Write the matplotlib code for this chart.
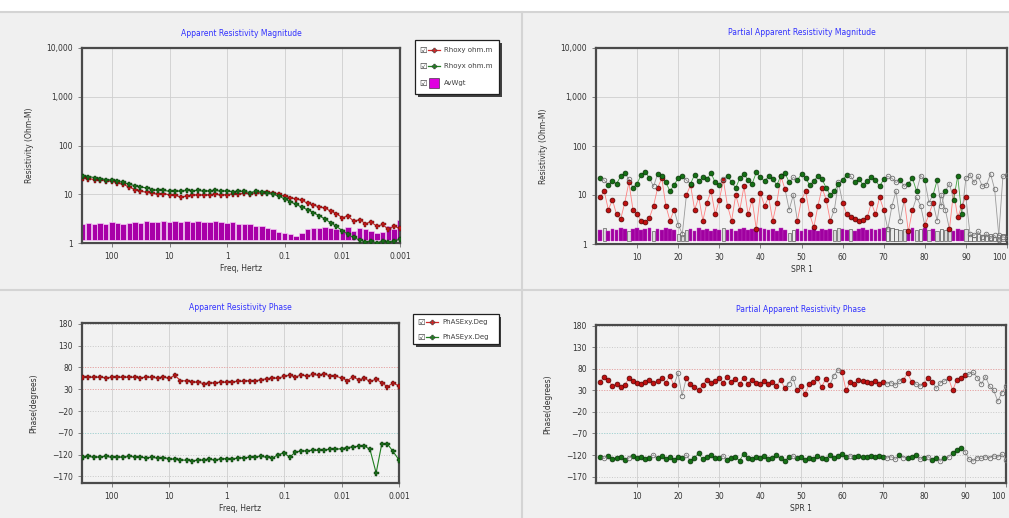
import matplotlib.pyplot as plt
from matplotlib.patches import Rectangle
from matplotlib.lines import Line2D

W, H = 1009, 518

# ---- sounding data (frequency domain) ----
freq = [320, 256, 200, 160, 128, 100, 80, 64, 50, 40, 32, 25, 20, 16, 12.8, 10,
        8, 6.4, 5, 4, 3.2, 2.5, 2, 1.6, 1.28, 1, 0.8, 0.64, 0.5, 0.4, 0.32, 0.25,
        0.2, 0.16, 0.128, 0.1, 0.08, 0.064, 0.05, 0.04, 0.032, 0.025, 0.02, 0.016,
        0.0128, 0.01, 0.008, 0.0064, 0.005, 0.004, 0.0032, 0.0025, 0.002, 0.0016,
        0.00128, 0.001]
rho_xy = [22, 21, 20, 20, 19, 18.5, 17, 16, 14, 12.5, 11.5, 11, 10.5, 10, 10.2, 9.8,
          9.5, 8.8, 9.2, 9.5, 9.8, 9.5, 9.8, 10, 9.6, 9.8, 10.2, 10, 10.5, 10.2, 10.8, 10.5,
          11, 10.5, 10, 9, 8.5, 8, 7.5, 6.5, 6, 5.5, 5.2, 4.5,
          4, 3.3, 3.6, 2.8, 3, 2.5, 2.7, 2.2, 2.4, 1.9,
          2.2, 2.0]
rho_yx = [24, 23, 22, 21, 20, 19.5, 18.5, 17.5, 16, 15, 14, 13.5, 12.5, 12, 12, 11.5,
          11.8, 11.5, 12, 11.8, 12, 11.5, 11.8, 12, 11.5, 11.8, 11.2, 11.5, 11.4, 10.8, 11.5, 11,
          10.5, 10, 9.2, 8, 7, 6.2, 5.4, 4.8, 4.2, 3.6, 3.1, 2.6,
          2.2, 1.8, 1.5, 1.3, 1.15, 1.05, 1.1, 1.0, 1.12, 1.05,
          1.1, 1.2]
av_wgt = [2.5, 2.6, 2.4, 2.6, 2.5, 2.7, 2.6, 2.5, 2.6, 2.7, 2.6, 2.8, 2.7, 2.7, 2.8, 2.7,
          2.8, 2.7, 2.8, 2.7, 2.8, 2.7, 2.7, 2.8, 2.7, 2.6, 2.7, 2.5, 2.4, 2.4, 2.2, 2.2,
          2.0, 1.9, 1.7, 1.6, 1.5, 1.4, 1.6, 1.9, 2.0, 2.0, 2.1, 2.0,
          1.9, 1.9, 2.1, 1.8, 2.0, 1.9, 1.8, 1.6, 1.7, 2.2,
          1.9, 2.9]
phs_xy = [58, 58, 57, 58, 56, 57, 58, 57, 58, 57, 56, 58, 57, 56, 58, 55,
          62, 50, 49, 47, 46, 43, 44, 45, 46, 46, 47, 48, 48, 50, 49, 52,
          54, 56, 55, 60, 62, 58, 63, 60, 64, 62, 65, 61,
          60, 56, 50, 58, 52, 55, 48, 53, 45, 36,
          44, 38]
phs_yx = [-125, -124, -126, -125, -124, -126, -125, -126, -124, -125, -126, -127, -126, -128, -127, -129,
          -131, -132, -133, -134, -133, -132, -131, -132, -130, -129, -130, -128, -127, -126, -125, -124,
          -126, -128, -120, -116, -126, -114, -112, -111, -110, -110, -109, -108,
          -108, -106, -104, -102, -101, -100, -108, -162, -96, -95,
          -112, -132]

# ---- partial (per SPR) data ----
spr = list(range(1, 101))
p_rho_xy = [9, 12, 5, 8, 4, 3.2, 7, 18, 5, 4,
            3, 2.8, 3.4, 6, 14, 22, 6, 3, 5, 2.5,
            1.6, 10, 16, 5, 9, 3, 7, 12, 4, 8,
            20, 6, 3, 10, 5, 15, 4, 8, 2, 11,
            6, 9, 3, 7, 24, 13, 5, 10, 3, 8,
            12, 4, 2.2, 6, 14, 8, 3, 5, 18, 7,
            4, 3.6, 3.2, 3, 3.1, 3.5, 7, 4, 9, 5,
            2, 6, 12, 3, 8, 1.8, 5, 9, 6, 2.4,
            4, 7, 3, 10, 5, 2, 12, 3.5, 6, 9,
            1.6, 1.5, 1.8, 1.4, 1.6, 1.3, 1.5, 1.2, 1.4, 1.3]
p_rho_yx = [22, 20, 16, 19, 17, 24, 28, 21, 14, 17,
            26, 30, 22, 15, 27, 25, 18, 12, 16, 22,
            24, 20, 17, 26, 19, 23, 21, 28, 18, 16,
            21, 25, 18, 14, 22, 27, 20, 17, 29, 23,
            19, 24, 21, 16, 25, 28, 18, 23, 20, 27,
            22, 16, 19, 25, 21, 14, 10, 12, 17, 20,
            26, 24, 18, 21, 16, 19, 23, 20, 15, 21,
            24, 22, 18, 20, 15, 17, 22, 12, 25, 20,
            7, 10, 20, 6, 12, 17, 8, 24, 4, 22,
            26, 18, 24, 15, 16, 27, 13, 1.5, 24, 26]
p_av_wgt = [1.9, 2.1, 1.8, 2.0, 1.9, 2.1, 2.0, 1.8, 2.0, 2.1,
            1.9, 2.0, 2.1, 1.8, 2.0, 1.9, 2.1, 2.0, 1.9, 1.6,
            1.5, 1.9, 2.0, 1.8, 2.1, 1.9, 2.0, 1.8, 2.0, 1.9,
            2.1, 1.9, 2.0, 1.8, 2.0, 2.1, 1.9, 2.0, 1.8, 2.1,
            2.0, 1.9, 2.0, 1.8, 2.1, 1.9, 1.7, 1.9, 2.0, 1.8,
            2.0, 1.9, 2.1, 1.8, 2.0, 1.9, 2.0, 1.9, 2.1, 2.0,
            1.9, 2.0, 1.8, 2.0, 2.1, 1.9, 2.0, 1.9, 2.0, 2.1,
            2.2, 2.1, 2.0, 1.9, 2.0, 1.8, 2.1, 1.9, 2.0, 2.1,
            1.9, 2.0, 1.8, 2.0, 1.9, 2.1, 1.8, 2.0, 1.9, 2.0,
            1.5, 1.4, 1.6, 1.5, 1.5, 1.6, 1.4, 1.5, 1.6, 1.5]
p_phs_xy = [50, 62, 55, 40, 45, 38, 42, 58, 52, 48,
            46, 50, 55, 48, 52, 60, 48, 64, 42, 70,
            18, 58, 45, 38, 30, 42, 55, 48, 52, 58,
            48, 62, 50, 56, 44, 60, 46, 54, 48, 45,
            52, 44, 50, 40, 55, 36, 46, 60, 30, 40,
            22, 45, 50, 58, 38, 56, 42, 64, 78, 72,
            30, 50, 45, 55, 52, 50, 48, 52, 46, 50,
            45, 48, 42, 52, 55, 70, 50, 45, 40, 45,
            60, 50, 35, 48, 52, 58, 30, 55, 60, 65,
            68, 72, 60, 45, 62, 40, 30, 5, 25, 40]
p_phs_yx = [-125, -128, -122, -130, -126, -124, -132, -127, -122, -128,
            -124, -130, -126, -120, -128, -123, -129, -125, -131, -124,
            -127, -120, -133, -126, -116, -130, -125, -119, -128, -126,
            -122, -131, -127, -124, -133, -118, -126, -129, -124, -127,
            -123, -130, -126, -121, -128, -134, -125, -122, -128, -124,
            -132, -126, -129, -123, -127, -130, -120, -126, -122, -118,
            -125, -122, -124, -123, -125, -124, -123, -124, -122, -124,
            -127, -124, -130, -121, -126, -128, -125, -119, -130, -126,
            -124, -132, -127, -134, -128, -125, -115, -108, -104, -112,
            -130, -134, -126, -128, -124, -127, -122, -125, -118, -132]
rej_xy = [20, 21, 47, 48, 58, 59, 71, 72, 73, 74, 78, 79, 83, 84, 85,
          91, 92, 93, 94, 95, 96, 97, 98, 99, 100]
rej_yx = [2, 8, 14, 22, 31, 48, 62, 71, 72, 73, 75, 79, 81, 84, 86, 90,
          91, 92, 93, 94, 95, 96, 97, 98, 99, 100]

BG = '#f0f0f0'
fig = plt.figure(figsize=(W / 100, H / 100), dpi=100, facecolor=BG)
fig.patches.append(Rectangle((0, 1 - 11 / H), 1, 11 / H, transform=fig.transFigure,
                             facecolor='white', edgecolor='none'))
fig.add_artist(Line2D([0, 1], [1 - 12 / H] * 2, color='#d4d4d4', lw=1.5))
fig.add_artist(Line2D([0, 1], [1 - 290 / H] * 2, color='#d4d4d4', lw=1.5))
fig.add_artist(Line2D([522 / W] * 2, [0, 1 - 12 / H], color='#d4d4d4', lw=1.5))


def make_ax(l, t, r, b):
    ax = fig.add_axes([l / W, 1 - b / H, (r - l) / W, (b - t) / H])
    ax.set_facecolor('#f2f2f2')
    for s in ax.spines.values():
        s.set_color('#4a4a4a')
        s.set_linewidth(1.6)
    ax.tick_params(labelsize=5.5, length=3, width=0.6, color='#707070', labelcolor='#333333')
    ax.grid(True, color='#cfcfcf', lw=0.6)
    ax.set_axisbelow(True)
    return ax


def title(ax, s):
    ax.set_title(s, fontsize=5.5, color='#3030ff', pad=9)


def mag_yaxis(ax):
    ax.set_yscale('log')
    ax.set_ylim(1, 10000)
    ax.set_yticks([1, 10, 100, 1000, 10000])
    ax.set_yticklabels(['1', '10', '100', '1,000', '10,000'])
    ax.minorticks_off()
    ax.set_ylabel('Resistivity (Ohm-M)', fontsize=5.5, color='#333333', labelpad=9)
    ax.axhspan(1, 1.13, color='white', zorder=1)


def phs_yaxis(ax):
    ax.set_ylim(-185, 182)
    ax.set_yticks([-170, -120, -70, -20, 30, 80, 130, 180])
    ax.set_ylabel('Phase(degrees)', fontsize=5.5, color='#333333', labelpad=10)
    ax.grid(True, axis='y', color='#c8c8c8', lw=0.7, ls=':')
    for v, c in [(80, '#f0a0a0'), (30, '#f0a0a0'), (-70, '#a0d8d8')]:
        ax.axhline(v, color=c, lw=0.7, ls=':', zorder=1)


def freq_xaxis(ax):
    ax.set_xscale('log')
    ax.set_xlim(330, 0.001)
    ax.set_xticks([100, 10, 1, 0.1, 0.01, 0.001])
    ax.set_xticklabels(['100', '10', '1', '0.1', '0.01', '0.001'])
    ax.minorticks_off()
    ax.set_xlabel('Freq, Hertz', fontsize=5.5, color='#333333', labelpad=2)


def spr_xaxis(ax):
    ax.set_xlim(0, 100)
    ax.set_xticks(range(10, 101, 10))
    ax.set_xlabel('SPR 1', fontsize=5.5, color='#333333', labelpad=2)
    ax.get_xticklabels()[-1].set_horizontalalignment('right')


def partial_series(ax, y, rej, line_c, mark_c, edge_c):
    for i in range(len(spr) - 1):
        bad = spr[i] in rej or spr[i + 1] in rej
        ax.plot(spr[i:i + 2], y[i:i + 2], color='#9a9a9a' if bad else line_c, lw=0.6, zorder=3)
    good_x = [s for s in spr if s not in rej]
    good_y = [v for s, v in zip(spr, y) if s not in rej]
    bad_x = [s for s in spr if s in rej]
    bad_y = [v for s, v in zip(spr, y) if s in rej]
    ax.plot(good_x, good_y, 'o', ms=3.5, mfc=mark_c, mec=edge_c, mew=0.5, zorder=4)
    ax.plot(bad_x, bad_y, 'o', ms=3.3, mfc='none', mec='#707070', mew=0.6, zorder=4)


def legend_box(l, t, r, b, rows):
    lax = fig.add_axes([l / W, 1 - b / H, (r - l) / W, (b - t) / H])
    lax.set_xlim(0, r - l)
    lax.set_ylim(b - t, 0)
    lax.axis('off')
    lax.add_patch(Rectangle((2.5, 2.5), r - l - 1, b - t - 1, facecolor='#404040',
                            edgecolor='none', clip_on=False))
    lax.add_patch(Rectangle((0, 0), r - l - 1, b - t - 1, facecolor='white',
                            edgecolor='#202020', lw=0.9, clip_on=False))
    for yy, kind, c, label in rows:
        lax.text(4, yy, '\u2611', fontsize=6, va='center', ha='left', color='#303030')
        if kind == 'line':
            lax.plot([13, 25], [yy, yy], color=c, lw=0.9)
            lax.plot([19], [yy], 'P', ms=3.5, mfc=c, mec='#202020', mew=0.3)
        else:
            lax.add_patch(Rectangle((14, yy - 5), 10, 10, facecolor=c, edgecolor='#202020', lw=0.4))
        lax.text(29, yy, label, fontsize=5, va='center', ha='left', color='#404040')


# ---- top left: apparent resistivity magnitude ----
ax1 = make_ax(82, 48, 400, 243)
mag_yaxis(ax1)
freq_xaxis(ax1)
edges_l = [f / 1.115 for f in freq]
widths = [f * 1.115 - f / 1.115 for f in freq]
ax1.bar(edges_l, [v - 1.13 for v in av_wgt], width=widths, bottom=1.13, align='edge',
        color='#a800a8', edgecolor='#f4c8f4', lw=0.5, zorder=2)
ax1.plot(freq, rho_xy, '-P', color='#d02828', lw=0.8, ms=3.6, mfc='#c01818', mec='#501010', mew=0.3, zorder=4)
ax1.plot(freq, rho_yx, '-P', color='#1f7f1f', lw=0.8, ms=3.6, mfc='#1a6a1a', mec='#0a300a', mew=0.3, zorder=5)
title(ax1, 'Apparent Resistivity Magnitude')

# ---- top right: partial magnitude ----
ax2 = make_ax(596, 48, 1007, 244)
mag_yaxis(ax2)
spr_xaxis(ax2)
for s, h in zip(spr, p_av_wgt):
    if s in rej_xy and s in rej_yx or s > 90:
        ax2.bar(s, h - 1.13, bottom=1.13, width=0.8, color='#ececec', edgecolor='#505050', lw=0.5, zorder=2)
    elif s in rej_xy or s in rej_yx:
        ax2.bar(s, h - 1.13, bottom=1.13, width=0.8, color='#dcdcdc', edgecolor='#606060', lw=0.5, zorder=2)
    else:
        ax2.bar(s, h - 1.13, bottom=1.13, width=0.9, color='#a000a0', edgecolor='#c040c0', lw=0.3, zorder=2)
partial_series(ax2, p_rho_xy, rej_xy, '#ff8080', '#c01010', '#500000')
partial_series(ax2, p_rho_yx, rej_yx, '#40a040', '#157015', '#083008')
title(ax2, 'Partial Apparent Resistivity Magnitude')

# ---- bottom left: apparent resistivity phase ----
ax3 = make_ax(82, 323, 399, 483)
phs_yaxis(ax3)
freq_xaxis(ax3)
ax3.plot(freq, phs_xy, '-P', color='#d02828', lw=0.8, ms=3.6, mfc='#b01818', mec='#501010', mew=0.3, zorder=4)
ax3.plot(freq, phs_yx, '-P', color='#1f7f1f', lw=0.8, ms=3.6, mfc='#1a6a1a', mec='#0a300a', mew=0.3, zorder=4)
title(ax3, 'Apparent Resistivity Phase')

# ---- bottom right: partial phase ----
ax4 = make_ax(596, 325, 1006, 483)
phs_yaxis(ax4)
spr_xaxis(ax4)
partial_series(ax4, p_phs_xy, rej_xy, '#ff8080', '#c01010', '#500000')
partial_series(ax4, p_phs_yx, rej_yx, '#40a040', '#157015', '#083008')
title(ax4, 'Partial Apparent Resistivity Phase')

legend_box(415, 40, 500, 95, [(10, 'line', '#d02828', 'Rhoxy ohm.m'),
                              (26, 'line', '#1f7f1f', 'Rhoyx ohm.m'),
                              (43, 'box', '#e000e0', 'AvWgt')])
legend_box(413, 314, 500, 345, [(8, 'line', '#d02828', 'PhASExy.Deg'),
                                (23, 'line', '#1f7f1f', 'PhASEyx.Deg')])

fig.savefig('out.png', dpi=100, facecolor=BG)
